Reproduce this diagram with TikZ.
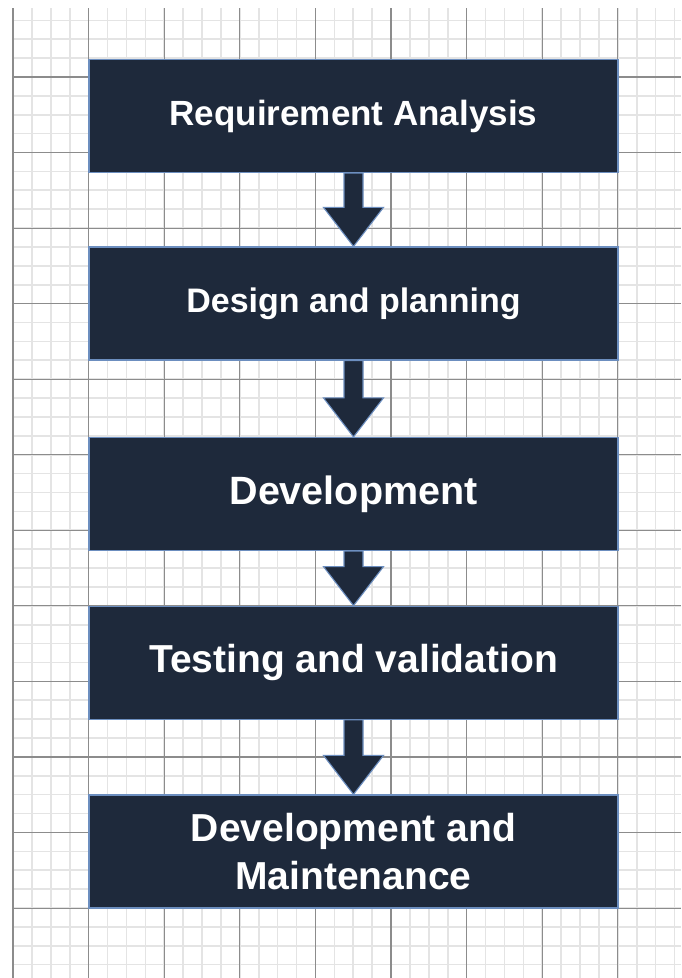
\documentclass[tikz,border=0pt]{standalone}
\usepackage{fontspec}
\setmainfont{Liberation Sans}
\usetikzlibrary{calc}
\definecolor{boxfill}{HTML}{1E293B}
\definecolor{boxedge}{HTML}{6C8EBF}
\definecolor{gridminor}{HTML}{E4E4E4}
\definecolor{gridmajor}{HTML}{8C8C8C}
\tikzset{
  minorline/.style={gridminor, line width=1.6pt},
  majorline/.style={gridmajor, line width=1.1pt},
  stage/.style={draw=boxedge, line width=1.2pt, fill=boxfill, text=white,
    minimum width=529pt, minimum height=113pt, inner sep=0pt,
    align=center, rectangle},
  stagefont/.style={font=\bfseries\fontsize{#1}{48}\selectfont},
  downarrow/.style={draw=boxedge, line width=1.1pt, fill=boxfill, line join=miter},
}
% block arrow from the bottom of one stage to the top of the next
\newcommand{\stagearrow}[2]{%
  \draw[downarrow] let \p1=(#1.south), \p2=(#2.north) in
    (\x1-9.5pt,\y1) -- (\x1+9.5pt,\y1) -- (\x1+9.5pt,\y2+39pt) --
    (\x1+30pt,\y2+39pt) -- (\x1,\y2) -- (\x1-30pt,\y2+39pt) --
    (\x1-9.5pt,\y2+39pt) -- cycle;}
\begin{document}
\begin{tikzpicture}[x=1pt,y=-1pt]
  \useasboundingbox (0,0) rectangle (681,978);
  \fill[white] (0,0) rectangle (681,978);
  % background grid
  \foreach \i in {0,...,35} {
    \draw[minorline] ({13+18.9*\i},8) -- ({13+18.9*\i},978);
  }
  \foreach \j in {0,...,50} {
    \draw[minorline] (13,{20.3+18.8875*\j}) -- (681,{20.3+18.8875*\j});
  }
  \foreach \i in {0,...,8} {
    \draw[majorline] ({13+75.6*\i},8) -- ({13+75.6*\i},978);
  }
  \foreach \j in {0,...,11} {
    \draw[majorline] (13,{77+75.55*\j}) -- (681,{77+75.55*\j});
  }
  % stages
  \node[stage, stagefont=35] (req) at (353.5,116) {Requirement Analysis};
  \node[stage, stagefont=34] (design) at (353.5,303.5) {Design and planning};
  \node[stage, stagefont=39.5] (dev) at (353.5,494) {Development};
  \node[stage, stagefont=39] (test) at (353.5,662.7) {Testing and validation};
  \node[stage, stagefont=39] (maint) at (353.5,851.5) {Development and\\Maintenance};
  % connectors
  \stagearrow{req}{design}
  \stagearrow{design}{dev}
  \stagearrow{dev}{test}
  \stagearrow{test}{maint}
\end{tikzpicture}
\end{document}
